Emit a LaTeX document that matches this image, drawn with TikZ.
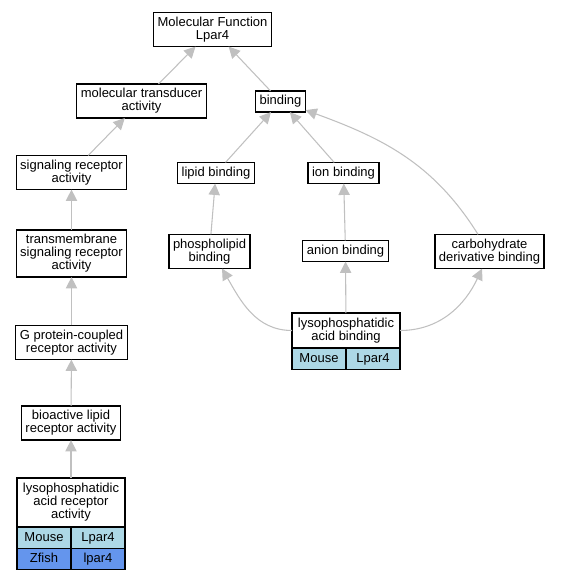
\documentclass[tikz,border=0pt]{standalone}
\usepackage{fontspec}
\setmainfont{Liberation Sans}
\usetikzlibrary{positioning,arrows.meta}

\definecolor{mouseblue}{RGB}{173,216,230}
\definecolor{fishblue}{RGB}{100,149,237}
\definecolor{linkgray}{RGB}{192,192,192}

\begin{document}
\begin{tikzpicture}[x=0.75pt,y=-0.75pt]

\tikzset{
     term/.style={
     	rectangle,
     	draw=black,
     	line width=1pt,
     	fill=white,
     	align=center,
     	outer sep=0pt,
     	inner xsep=3pt,
     	inner ysep=3.4pt,
     	font=\fontsize{9.75}{9.75}\selectfont
     }
}

\tikzset{
	gene/.style={
		rectangle,
		draw=black,
		line width=1pt,
		fill=mouseblue,
		outer sep=0pt,
		inner sep=0pt,
		text height=7.2pt,
		text depth=2pt,
		minimum width=40.5pt,
		minimum height=16pt,
		anchor=north west,
		font=\fontsize{9.75}{9.75}\selectfont
	}
}

\tikzset{
	isa/.style={
		draw=linkgray,
		line width=0.8pt,
		-{Triangle[length=8.5pt,width=8.5pt,fill=linkgray]}
	}
}

\def\tabw{81pt}

\useasboundingbox (0,0) rectangle (560,581);

% root
\node[term] (mf) at (212.5,29.5) {Molecular Function\\Lpar4};

% left branch
\node[term] (transducer) at (141.5,101) {molecular transducer\\activity};
\node[term] (sigrec) at (71.5,172.5) {signaling receptor\\activity};
\node[term] (tmsig) at (71.5,253.5) {transmembrane\\signaling receptor\\activity};
\node[term] (gpcr) at (71.5,342.5) {G protein-coupled\\receptor activity};
\node[term] (bioact) at (71,423) {bioactive lipid\\receptor activity};
\node[term, minimum width=\tabw, minimum height=36.75pt] (lparec) at (71,502.5) {lysophosphatidic\\acid receptor\\activity};
\node[gene] (lparecmouse) at (lparec.south west) {Mouse};
\node[gene] (lparecmousegene) at (lparecmouse.north east) {Lpar4};
\node[gene, fill=fishblue] (lpareczfish) at (lparecmouse.south west) {Zfish};
\node[gene, fill=fishblue] (lpareczfishgene) at (lpareczfish.north east) {lpar4};

% right branch
\node[term] (binding) at (280.5,101.5) {binding};
\node[term] (lipid) at (216,173) {lipid binding};
\node[term] (ion) at (343.5,173) {ion binding};
\node[term] (phos) at (209.5,251.5) {phospholipid\\binding};
\node[term] (anion) at (345.5,251) {anion binding};
\node[term] (carb) at (489.5,251.5) {carbohydrate\\derivative binding};
\node[term, minimum width=\tabw, minimum height=26.25pt] (lpab) at (346,330.5) {lysophosphatidic\\acid binding};
\node[gene] (lpabmouse) at (lpab.south west) {Mouse};
\node[gene] (lpabmousegene) at (lpabmouse.north east) {Lpar4};

% is-a links
\draw[isa] (transducer) -- (mf);
\draw[isa] (binding) -- (mf);
\draw[isa] (sigrec) -- (transducer);
\draw[isa] (tmsig) -- (sigrec);
\draw[isa] (gpcr) -- (tmsig);
\draw[isa] (bioact) -- (gpcr);
\draw[isa] (lparec) -- (bioact);
\draw[isa] (lipid) -- (binding);
\draw[isa] (ion) -- (binding);
\draw[isa] ([xshift=-8.6pt]carb.north) to[out=122,in=-20] ([yshift=1.5pt]binding.south east);
\draw[isa] (phos) -- (lipid);
\draw[isa] (anion) -- (ion);
\draw[isa] (lpab.west) to[out=180,in=-60] ([xshift=9.4pt]phos.south);
\draw[isa] (lpab) -- (anion);
\draw[isa] (lpab.east) to[out=0,in=-115] ([xshift=-5.6pt]carb.south);

\end{tikzpicture}
\end{document}
